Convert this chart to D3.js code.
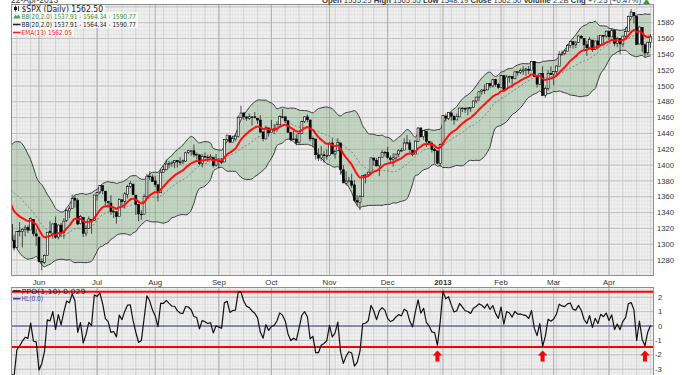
<!DOCTYPE html>
<html>
<head>
<meta charset="utf-8">
<title>$SPX Daily</title>
<script src="https://cdn.jsdelivr.net/npm/d3@7"></script>
<style>
  body { margin: 0; background: #fff; }
  svg { display: block; font-family: "Liberation Sans", Arial, sans-serif; }
</style>
</head>
<body>
<div id="chart"></div>
<script>
// closes before the visible window, only used to warm up EMA / BB (2-Apr-2012 .. 16-May-2012)
let warmupCloses = [1419.04,1413.38,1398.96,1398.08,1382.20,1358.59,1368.71,1387.57,1370.26,1369.57,
  1390.78,1385.14,1376.92,1378.53,1366.94,1371.97,1390.69,1399.98,1403.36,1397.91,
  1405.82,1402.31,1391.57,1369.10,1369.58,1363.72,1354.58,1357.99,1353.39,1338.35,1330.66,1324.80];

// visible trading days, by month
let tradingDays = [
  ["2012-05", [17,18,21,22,23,24,25,29,30,31]],
  ["2012-06", [1,4,5,6,7,8,11,12,13,14,15,18,19,20,21,22,25,26,27,28,29]],
  ["2012-07", [2,3,5,6,9,10,11,12,13,16,17,18,19,20,23,24,25,26,27,30,31]],
  ["2012-08", [1,2,3,6,7,8,9,10,13,14,15,16,17,20,21,22,23,24,27,28,29,30,31]],
  ["2012-09", [4,5,6,7,10,11,12,13,14,17,18,19,20,21,24,25,26,27,28]],
  ["2012-10", [1,2,3,4,5,8,9,10,11,12,15,16,17,18,19,22,23,24,25,26,31]],
  ["2012-11", [1,2,5,6,7,8,9,12,13,14,15,16,19,20,21,23,26,27,28,29,30]],
  ["2012-12", [3,4,5,6,7,10,11,12,13,14,17,18,19,20,21,24,26,27,28,31]],
  ["2013-01", [2,3,4,7,8,9,10,11,14,15,16,17,18,22,23,24,25,28,29,30,31]],
  ["2013-02", [1,4,5,6,7,8,11,12,13,14,15,19,20,21,22,25,26,27,28]],
  ["2013-03", [1,4,5,6,7,8,11,12,13,14,15,18,19,20,21,22,25,26,27,28]],
  ["2013-04", [1,2,3,4,5,8,9,10,11,12,15,16,17,18,19,22]]
];

let opens = [
  1325,1305,1296,1316,1316,1319,1321,1318,1331,1313,
  1309,1278,1277,1286,1316,1314,1326,1309,1324,1315,1330,1342,1345,1358,1355,1326,1334,1314,1320,1331,1330,
  1362,1366,1374,1367,1354,1352,1341,1341,1335,1356,1354,1363,1373,1376,1362,1350,1338,1338,1360,1386,1385,
  1380,1375,1365,1391,1394,1401,1402,1403,1406,1404,1404,1405,1416,1418,1418,1413,1413,1402,1411,1410,1409,1410,1400,
  1406,1405,1404,1432,1437,1429,1433,1436,1460,1466,1461,1459,1461,1461,1459,1457,1442,1433,1447,
  1441,1444,1446,1451,1461,1461,1456,1441,1433,1433,1429,1440,1455,1461,1457,1433,1433,1413,1409,1413,1411,
  1412,1428,1414,1418,1428,1394,1377,1380,1380,1375,1355,1353,1360,1387,1388,1391,1409,1406,1399,1410,1416,
  1416,1409,1407,1409,1414,1418,1419,1428,1428,1419,1414,1430,1447,1436,1443,1430,1427,1420,1418,1402,
  1426,1462,1459,1466,1462,1457,1461,1472,1472,1471,1472,1473,1481,1486,1493,1495,1495,1503,1500,1508,1502,
  1498,1513,1496,1511,1512,1509,1518,1517,1519,1520,1521,1520,1531,1512,1502,1516,1488,1497,1516,
  1515,1518,1525,1540,1541,1544,1551,1556,1552,1555,1563,1560,1552,1549,1558,1546,1557,1552,1564,1563,
  1569,1562,1570,1554,1560,1553,1563,1569,1588,1593,1588,1553,1574,1552,1542,1555.25
];
let highs = [
  1327,1312,1316,1328,1320,1324,1324,1334,1331,1319,
  1309,1282,1287,1315,1329,1326,1335,1325,1327,1333,1344,1348,1363,1361,1358,1337,1334,1324,1335,1331,1362,
  1366,1374,1374,1367,1354,1362,1345,1341,1358,1357,1366,1375,1380,1376,1362,1351,1343,1363,1389,1392,1388,
  1386,1376,1395,1399,1407,1405,1405,1406,1406,1410,1407,1417,1419,1418,1426,1416,1413,1414,1416,1413,1414,1410,1414,
  1409,1409,1433,1438,1438,1437,1439,1463,1475,1466,1461,1465,1461,1467,1460,1463,1442,1450,1447,
  1457,1452,1455,1463,1471,1461,1456,1442,1444,1439,1441,1456,1462,1464,1457,1436,1433,1421,1424,1418,1420,
  1429,1434,1419,1434,1428,1400,1392,1385,1389,1381,1362,1362,1387,1389,1392,1409,1409,1409,1410,1419,1418,
  1423,1412,1415,1414,1420,1422,1434,1438,1432,1419,1431,1448,1447,1444,1443,1430,1430,1422,1418,1427,
  1463,1465,1467,1466,1462,1465,1472,1473,1472,1473,1473,1482,1486,1493,1496,1502,1503,1504,1509,1509,1504,
  1514,1513,1514,1513,1512,1518,1518,1522,1525,1523,1525,1531,1531,1512,1516,1525,1499,1520,1525,
  1519,1526,1544,1545,1546,1553,1557,1556,1557,1564,1564,1560,1557,1562,1558,1557,1564,1564,1564,1570,
  1570,1573,1571,1562,1560,1563,1574,1589,1597,1593,1588,1575,1574,1554,1556,1565.55
];
let lows = [
  1304,1292,1295,1310,1296,1310,1314,1318,1310,1298,
  1277,1267,1275,1286,1313,1307,1307,1306,1309,1307,1328,1333,1345,1346,1324,1325,1309,1310,1320,1313,1330,
  1355,1363,1363,1348,1346,1337,1333,1326,1335,1348,1345,1358,1371,1362,1337,1329,1331,1338,1360,1381,1379,
  1372,1354,1365,1391,1394,1396,1398,1396,1397,1400,1401,1404,1414,1412,1410,1407,1400,1397,1409,1404,1407,1397,1398,
  1396,1401,1404,1430,1428,1429,1430,1435,1460,1457,1456,1457,1450,1459,1452,1441,1430,1433,1436,
  1441,1439,1442,1451,1459,1453,1441,1430,1432,1425,1427,1440,1453,1454,1430,1423,1407,1405,1405,1403,1407,
  1412,1414,1408,1418,1388,1377,1374,1378,1371,1353,1348,1343,1360,1377,1386,1391,1399,1398,1386,1410,1411,
  1408,1403,1398,1406,1410,1417,1419,1426,1416,1411,1414,1430,1435,1432,1423,1425,1416,1402,1401,1398,
  1426,1455,1457,1456,1451,1457,1461,1467,1466,1463,1467,1473,1478,1481,1489,1490,1495,1497,1498,1499,1496,
  1498,1495,1496,1504,1498,1509,1513,1515,1514,1513,1515,1520,1512,1498,1502,1488,1485,1494,1514,
  1501,1512,1525,1538,1539,1544,1548,1547,1548,1555,1559,1545,1538,1549,1543,1546,1546,1552,1551,1561,
  1558,1562,1550,1549,1540,1549,1559,1569,1587,1579,1552,1553,1543,1537,1539,1548.19
];
let closes = [
  1304.86,1295.22,1315.99,1316.63,1318.86,1320.68,1317.82,1332.42,1313.32,1310.33,
  1278.04,1278.18,1285.50,1315.13,1314.99,1325.66,1308.93,1324.18,1314.88,1329.10,1342.84,1344.78,1357.98,1355.69,1325.51,1335.02,1313.72,1319.99,1331.85,1329.04,1362.16,
  1365.51,1374.02,1367.58,1354.68,1352.46,1341.47,1341.45,1334.76,1356.78,1353.64,1363.67,1372.78,1376.51,1362.66,1350.52,1338.31,1337.89,1360.02,1385.97,1385.30,1379.32,
  1375.32,1365.00,1390.99,1394.23,1401.35,1402.22,1402.80,1405.87,1404.11,1403.93,1405.53,1415.51,1418.16,1418.13,1413.17,1413.49,1402.08,1411.13,1410.44,1409.30,1410.49,1399.48,1406.58,
  1404.94,1403.44,1432.12,1437.92,1429.08,1433.56,1436.56,1459.99,1465.77,1461.19,1459.32,1461.05,1460.26,1460.15,1456.89,1441.59,1433.32,1447.15,1440.67,
  1444.49,1445.75,1450.99,1461.40,1460.93,1455.88,1441.48,1432.56,1432.84,1428.59,1440.13,1454.92,1460.91,1457.34,1433.19,1433.82,1413.11,1408.75,1412.97,1411.94,1412.16,
  1427.59,1414.20,1417.26,1428.39,1394.53,1377.51,1379.85,1380.03,1374.53,1355.49,1353.33,1359.88,1386.89,1387.81,1391.03,1409.15,1406.29,1398.94,1409.93,1415.95,1416.18,
  1409.46,1407.05,1409.28,1413.94,1418.07,1418.55,1427.84,1428.48,1419.45,1413.58,1430.36,1446.79,1435.81,1443.69,1430.15,1426.66,1419.83,1418.10,1402.43,1426.19,
  1462.42,1459.37,1466.47,1461.89,1457.15,1461.02,1472.12,1472.05,1470.68,1472.34,1472.63,1480.94,1485.98,1492.56,1494.81,1494.82,1502.96,1500.18,1507.84,1501.96,1498.11,
  1513.17,1495.71,1511.29,1512.12,1509.39,1517.93,1517.01,1519.43,1520.33,1521.38,1519.79,1530.94,1511.95,1502.42,1515.60,1487.85,1496.94,1515.99,1514.68,
  1518.20,1525.20,1539.79,1541.46,1544.26,1551.18,1556.22,1552.48,1554.52,1563.23,1560.70,1552.10,1548.34,1558.71,1545.80,1556.89,1551.69,1563.77,1562.85,1569.19,
  1562.17,1570.25,1553.69,1559.98,1553.28,1563.07,1568.61,1587.73,1593.37,1588.85,1552.36,1574.57,1552.01,1541.61,1555.25,1562.50
];

let monthLabels = ["Jun","Jul","Aug","Sep","Oct","Nov","Dec","2013","Feb","Mar","Apr"];
let priceTicks = [1280,1300,1320,1340,1360,1380,1400,1420,1440,1460,1480,1500,1520,1540,1560,1580];
let ppoTicks = [2,1,0,-1,-2,-3];
let alertLevels = [2.38, -1.46];          // the two red lines on the PPO panel
let signalDates = ["2012-12-28","2013-02-25","2013-04-18"];

//Width, height and panel edges
let w = 685, h = 375;
let plotL = 11, plotR = 654;
let mainTop = 4, mainBot = 276;
let ppoTop = 287, ppoBot = 380;

let parse = d3.timeParse("%Y-%m-%d");
let fmt = d3.timeFormat("%Y-%m-%d");
let dates = [];
tradingDays.forEach(([ym, days]) => days.forEach(d => dates.push(parse(ym + "-" + String(d).padStart(2, "0")))));
let n = dates.length;
[opens, highs, lows, closes].forEach(a => { if (a.length !== n) throw new Error("length " + a.length + " vs " + n); });

// indicators
let allCloses = warmupCloses.concat(closes);
let off = warmupCloses.length;
function ema(vals, len) {
  let k = 2 / (len + 1), e = vals[0];
  return vals.map((v, i) => i === 0 ? e : (e = v * k + e * (1 - k)));
}
let ema13 = ema(allCloses, 13).slice(off);
let bb = allCloses.map((c, i) => {
  if (i < 19) return null;
  let win = allCloses.slice(i - 19, i + 1);
  let m = d3.mean(win);
  let sd = Math.sqrt(d3.mean(win, v => (v - m) * (v - m)));
  return { mid: m, up: m + 2 * sd, lo: m - 2 * sd };
}).slice(off);
// the chart's PPO reading (0.029) lines up with the EMA shown above, so use that as the slow average
let ppo = closes.map((c, i) => (c - ema13[i]) / ema13[i] * 100);

// scales
let x = d3.scaleLinear().domain([0, n - 1]).range([11.3, 650.5]);
let y = d3.scaleLinear().domain([1259.8, 1603.6]).range([mainBot, mainTop]);
let yp = d3.scaleLinear().domain([-3.75, 2.71]).range([ppoBot, ppoTop]);

let monthStarts = d3.range(1, n).filter(i => dates[i].getMonth() !== dates[i - 1].getMonth());
let weekStarts = d3.range(1, n).filter(i => +d3.timeWeek(dates[i]) !== +d3.timeWeek(dates[i - 1]));

//Create SVG
let svg = d3.select("#chart").append("svg").attr("width", w).attr("height", h);
svg.append("rect").attr("width", w).attr("height", h).attr("fill", "#fff");

let defs = svg.append("defs");
defs.append("clipPath").attr("id", "clipMain").append("rect")
  .attr("x", plotL).attr("y", mainTop).attr("width", plotR - plotL).attr("height", mainBot - mainTop);
defs.append("clipPath").attr("id", "clipPpo").append("rect")
  .attr("x", plotL).attr("y", ppoTop).attr("width", plotR - plotL).attr("height", ppoBot - ppoTop);

function drawGrid(g, top, bot, ys, minor, major) {
  g.append("rect").attr("x", plotL).attr("y", top).attr("width", plotR - plotL).attr("height", bot - top).attr("fill", "#f0f0f0");
  g.selectAll(".vd").data(d3.range(n)).enter().append("line")
    .attr("x1", i => x(i)).attr("x2", i => x(i)).attr("y1", top).attr("y2", bot)
    .attr("stroke", "#e2e2e2").attr("stroke-width", 0.6);
  g.selectAll(".hm").data(minor).enter().append("line")
    .attr("x1", plotL).attr("x2", plotR).attr("y1", v => ys(v)).attr("y2", v => ys(v))
    .attr("stroke", "#dedede").attr("stroke-width", 0.6);
  g.selectAll(".vw").data(weekStarts).enter().append("line")
    .attr("x1", i => x(i)).attr("x2", i => x(i)).attr("y1", top).attr("y2", bot)
    .attr("stroke", "#cbcbcb").attr("stroke-width", 0.8);
  g.selectAll(".hM").data(major).enter().append("line")
    .attr("x1", plotL).attr("x2", plotR).attr("y1", v => ys(v)).attr("y2", v => ys(v))
    .attr("stroke", "#c0c0c0").attr("stroke-width", 1);
  g.selectAll(".vM").data(monthStarts).enter().append("line")
    .attr("x1", i => x(i)).attr("x2", i => x(i)).attr("y1", top).attr("y2", bot)
    .attr("stroke", "#adadad").attr("stroke-width", 1);
}

// ---------- price panel ----------
let mainG = svg.append("g").attr("clip-path", "url(#clipMain)");
drawGrid(mainG, mainTop, mainBot, y, d3.range(1260, 1605, 5), d3.range(1260, 1605, 20));

let idx = d3.range(n);
mainG.append("path").datum(idx)
  .attr("d", d3.area().x(i => x(i)).y0(i => y(bb[i].lo)).y1(i => y(bb[i].up)).curve(d3.curveMonotoneX))
  .attr("fill", "rgb(120,165,120)").attr("fill-opacity", 0.36);
["up", "lo"].forEach(k => {
  mainG.append("path").datum(idx)
    .attr("d", d3.line().x(i => x(i)).y(i => y(bb[i][k])).curve(d3.curveMonotoneX))
    .attr("fill", "none").attr("stroke", "#3c3c3c").attr("stroke-width", 1);
});
mainG.append("path").datum(idx)
  .attr("d", d3.line().x(i => x(i)).y(i => y(bb[i].mid)))
  .attr("fill", "none").attr("stroke", "#666").attr("stroke-width", 0.7).attr("stroke-dasharray", "2,2");

// candles
let bw = 2;
let cg = mainG.append("g");
cg.selectAll("line").data(idx).enter().append("line")
  .attr("x1", i => x(i)).attr("x2", i => x(i))
  .attr("y1", i => y(Math.max(highs[i], opens[i], closes[i])))
  .attr("y2", i => y(Math.min(lows[i], opens[i], closes[i])))
  .attr("stroke", "#111").attr("stroke-width", 0.7);
cg.selectAll("rect").data(idx).enter().append("rect")
  .attr("x", i => x(i) - bw / 2)
  .attr("y", i => y(Math.max(opens[i], closes[i])))
  .attr("width", bw)
  .attr("height", i => Math.max(0.7, Math.abs(y(opens[i]) - y(closes[i]))))
  .attr("fill", i => closes[i] >= opens[i] ? "#f4f4f4" : "#000")
  .attr("stroke", "#000").attr("stroke-width", 0.6);

mainG.append("path").datum(idx)
  .attr("d", d3.line().x(i => x(i)).y(i => y(ema13[i])).curve(d3.curveMonotoneX))
  .attr("fill", "none").attr("stroke", "#ff1010").attr("stroke-width", 2);

// legend
let last = n - 1;
let lg = svg.append("g").style("font-family", "'DejaVu Sans', Verdana, sans-serif").style("font-size", "7px");
let legendRows = [
  { text: "$SPX (Daily) " + closes[last].toFixed(2), color: "#222", y: 11.8, x1: 103, size: 8 },
  { text: "BB(20,2.0) " + bb[last].lo.toFixed(2) + " - " + bb[last].mid.toFixed(2) + " - " + bb[last].up.toFixed(2), color: "#3d8b3d", y: 19, x1: 136 },
  { text: "BB(20,2.0) " + bb[last].lo.toFixed(2) + " - " + bb[last].mid.toFixed(2) + " - " + bb[last].up.toFixed(2), color: "#222", y: 27, x1: 136 },
  { text: "EMA(13) " + ema13[last].toFixed(2), color: "#ff1a1a", y: 35, x1: 72 }
];
legendRows.forEach((r, k) => {
  lg.append("rect").attr("x", plotL + 1).attr("y", r.y - 7).attr("width", r.x1 - plotL + 1).attr("height", 8)
    .attr("fill", "#fff").attr("fill-opacity", 0.7);
  lg.append("text").attr("x", 21.5).attr("y", r.y).attr("fill", r.color)
    .attr("textLength", r.x1 - 21.5).attr("lengthAdjust", "spacingAndGlyphs")
    .style("font-size", (r.size || 7) + "px").text(r.text);
});
// legend icons
lg.append("line").attr("x1", 15.5).attr("x2", 15.5).attr("y1", 5.5).attr("y2", 11.5).attr("stroke", "#111").attr("stroke-width", 0.8);
lg.append("rect").attr("x", 14).attr("y", 7).attr("width", 3).attr("height", 3).attr("fill", "#111");
lg.append("line").attr("x1", 18.5).attr("x2", 18.5).attr("y1", 6).attr("y2", 11).attr("stroke", "#111").attr("stroke-width", 0.8);
lg.append("path").attr("d", "M13,18.5 L15.5,14.5 L17,16.5 L18.5,14 L20.5,18.5 Z").attr("fill", "#5aa05a");
lg.append("line").attr("x1", 13).attr("x2", 20.5).attr("y1", 24.5).attr("y2", 24.5).attr("stroke", "#222").attr("stroke-width", 1.6);
lg.append("line").attr("x1", 13).attr("x2", 20.5).attr("y1", 32.5).attr("y2", 32.5).attr("stroke", "#ff1a1a").attr("stroke-width", 1.6);

svg.append("rect").attr("x", plotL + 0.5).attr("y", mainTop + 0.5).attr("width", plotR - plotL - 1).attr("height", mainBot - mainTop - 1)
  .attr("fill", "none").attr("stroke", "#8e8e8e");

// price axis (right)
svg.append("g").selectAll("text").data(priceTicks).enter().append("text")
  .attr("x", 657).attr("y", v => y(v)).attr("dy", "0.35em")
  .attr("fill", "#333").style("font-size", "7.6px").text(v => v);

// header (cut at top edge)
svg.append("text").attr("x", 11).attr("y", 3.2).attr("fill", "#333").style("font-size", "8.5px").text("22-Apr-2013");
let hdr = svg.append("text").attr("x", 322).attr("y", 3.2).attr("fill", "#333").style("font-size", "7.5px")
  .attr("textLength", 319).attr("lengthAdjust", "spacingAndGlyphs");
let hdrParts = [["Open", opens[last].toFixed(2)], ["High", highs[last].toFixed(2)], ["Low", lows[last].toFixed(2)],
  ["Close", closes[last].toFixed(2)], ["Volume", "2.2B"], ["Chg", "+7.25 (+0.47%)"]];
hdrParts.forEach(([l, v], k) => {
  hdr.append("tspan").style("font-weight", "bold").text((k ? " " : "") + l + " ");
  hdr.append("tspan").text(v);
});
svg.append("path").attr("d", "M643,4 L646.5,-1 L650,4 Z").attr("fill", "#2aa02a");

// month labels
svg.append("g").selectAll("text").data(monthStarts).enter().append("text")
  .attr("x", i => x(i)).attr("y", 284.5).attr("text-anchor", "middle")
  .attr("fill", "#333").style("font-size", "7.8px")
  .style("font-weight", (i, k) => monthLabels[k] === "2013" ? "bold" : "normal")
  .text((i, k) => monthLabels[k]);

// ---------- PPO panel ----------
let ppoG = svg.append("g").attr("clip-path", "url(#clipPpo)");
drawGrid(ppoG, ppoTop, ppoBot, yp, d3.range(-3.75, 2.8, 0.25), d3.range(-3, 3, 1));
ppoG.append("line").attr("x1", plotL).attr("x2", plotR).attr("y1", yp(0)).attr("y2", yp(0))
  .attr("stroke", "#3b3ba8").attr("stroke-width", 1);
ppoG.selectAll(".alert").data(alertLevels).enter().append("line")
  .attr("x1", plotL).attr("x2", plotR).attr("y1", v => yp(v)).attr("y2", v => yp(v))
  .attr("stroke", "#ff0000").attr("stroke-width", 2);
ppoG.append("path").datum(idx)
  .attr("d", d3.line().x(i => x(i)).y(i => yp(ppo[i])))
  .attr("fill", "none").attr("stroke", "#111").attr("stroke-width", 1.2).attr("stroke-linejoin", "round");

// up arrows
let sigIdx = signalDates.map(s => dates.findIndex(d => fmt(d) === s));
ppoG.selectAll(".arrow").data(sigIdx).enter().append("path")
  .attr("transform", i => "translate(" + x(i) + "," + (yp(alertLevels[1]) + 3.5) + ")")
  .attr("d", "M0,0 L4.8,5 L2,5 L2,11 L-2,11 L-2,5 L-4.8,5 Z")
  .attr("fill", "#ff0000");

// PPO legend
let pl = svg.append("g").style("font-family", "'DejaVu Sans', Verdana, sans-serif").style("font-size", "7px");
pl.append("line").attr("x1", 13).attr("x2", 20.5).attr("y1", 291).attr("y2", 291).attr("stroke", "#222").attr("stroke-width", 1.6);
pl.append("text").attr("x", 21.5).attr("y", 293.6).attr("fill", "#222")
  .attr("textLength", 64).attr("lengthAdjust", "spacingAndGlyphs").text("PPO(1,10) " + ppo[last].toFixed(3));
pl.append("line").attr("x1", 13).attr("x2", 20.5).attr("y1", 298.7).attr("y2", 298.7).attr("stroke", "#3b3ba8").attr("stroke-width", 1.6);
pl.append("text").attr("x", 21.5).attr("y", 301.3).attr("fill", "#3b3ba8")
  .attr("textLength", 21.5).attr("lengthAdjust", "spacingAndGlyphs").text("HL(0.0)");

svg.append("rect").attr("x", plotL + 0.5).attr("y", ppoTop + 0.5).attr("width", plotR - plotL - 1).attr("height", ppoBot - ppoTop)
  .attr("fill", "none").attr("stroke", "#8e8e8e");

svg.append("g").selectAll("text").data(ppoTicks).enter().append("text")
  .attr("x", v => v < 0 ? 655 : 658).attr("y", v => yp(v)).attr("dy", "0.35em")
  .attr("fill", "#333").style("font-size", "7.6px").text(v => v);
</script>
</body>
</html>
